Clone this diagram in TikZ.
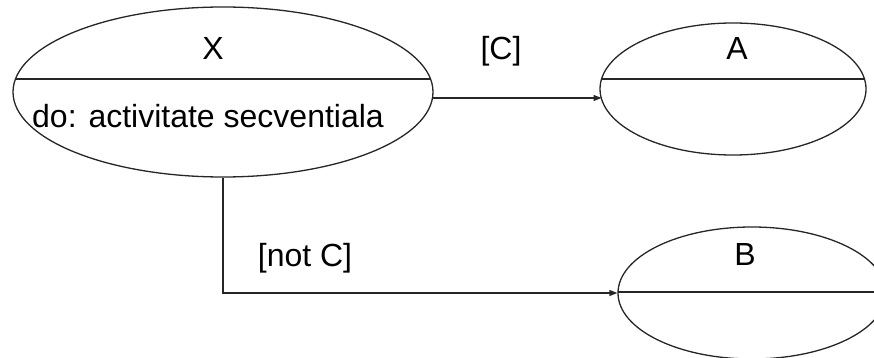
\documentclass[tikz,border=0pt]{standalone}
\usepackage{fontspec}
\setmainfont{Liberation Sans}
\usetikzlibrary{shapes.geometric,arrows.meta,calc}

\tikzset{
  state/.style={draw=black!85, line width=1.3pt, ellipse, inner sep=0pt, text=black},
  divider/.style={draw=black!85, line width=1.5pt},
  flow/.style={draw=black!85, line width=1.3pt, -{Triangle[length=8pt,width=6pt]}},
  lbl/.style={font=\fontsize{32}{38}\selectfont, anchor=base, inner sep=0pt, text=black}
}

\begin{document}
\begin{tikzpicture}[x=1pt, y=-1pt]
  \useasboundingbox (0,0) rectangle (874,358);
  \clip (0,0) rectangle (874,358);

  % states
  \node[state, minimum width=420pt, minimum height=170pt] (X) at (223,92) {};
  \node[state, minimum width=266pt, minimum height=132pt] (A) at (733,89) {};
  \node[state, minimum width=268pt, minimum height=132pt] (B) at (752,293) {};

  % compartment lines
  \coordinate (xl) at ($(X.center)+(-207.5,-13)$);
  \coordinate (xr) at ($(X.center)+(207.5,-13)$);
  \draw[divider] (xl) -- (xr);
  \coordinate (al) at ($(A.center)+(-131.5,-10)$);
  \coordinate (ar) at ($(A.center)+(131.5,-10)$);
  \draw[divider] (al) -- (ar);
  \coordinate (bl) at ($(B.center)+(-134,-1)$);
  \coordinate (br) at ($(B.center)+(134,-1)$);
  \draw[divider] (bl) -- (br);

  % texts
  \node[lbl] (xname) at (213,60) {X};
  \node[lbl] (xdo) at (208,128) {do: activitate secventiala};
  \node[lbl] (aname) at (737,60) {A};
  \node[lbl] (bname) at (745,265) {B};
  \node[lbl] (gc) at (501,60) {[C]};
  \node[lbl] (gnc) at (305,266) {[not C]};

  % transitions
  \coordinate (xout) at ($(X.center)+(209.5,6)$);
  \coordinate (ain) at ($(A.center)+(-131.5,9)$);
  \draw[flow] (xout) -- (xout -| ain);
  \draw[flow] (X.south) |- (B.west);
\end{tikzpicture}
\end{document}
